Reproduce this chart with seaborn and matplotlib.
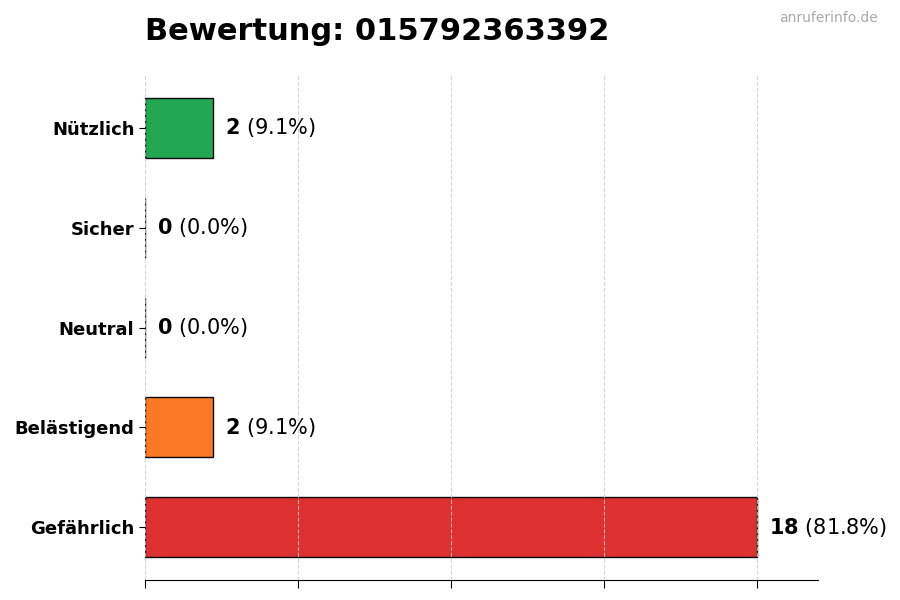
import matplotlib
matplotlib.use("Agg")
import matplotlib.pyplot as plt
import seaborn as sns
import pandas as pd

# Bewertungen fuer die Nummer
kategorien = ['Nützlich', 'Sicher', 'Neutral', 'Belästigend', 'Gefährlich']
anzahl = [2, 0, 0, 2, 18]
farben = ['#16a34a', '#2563eb', '#6b7280', '#f97316', '#dc2626']
nummer = '015792363392'

df = pd.DataFrame({'kategorie': kategorien, 'anzahl': anzahl})
gesamt = sum(anzahl)
maxwert = max(anzahl)

sns.set_style('white')
plt.rcParams['font.family'] = ['DejaVu Sans']
plt.rcParams['text.color'] = 'black'
plt.rcParams['axes.labelcolor'] = 'black'

fig = plt.figure(figsize=(9, 6), dpi=100)
ax = fig.add_axes([0.161, 0.033, 0.748, 0.842])

sns.barplot(data=df, x='anzahl', y='kategorie', hue='kategorie', palette=farben,
            legend=False, orient='h', width=0.6, edgecolor='black', linewidth=1,
            saturation=1, alpha=0.95, ax=ax)

# Werte neben den Balken
for i, v in enumerate(anzahl):
    pct = v / gesamt * 100
    ax.text(v + maxwert * 0.02, i, r'$\bf{' + str(v) + '}$' + f' ({pct:.1f}%)',
            va='center', ha='left', fontsize=15, color='black')

ax.set_xlim(0, maxwert * 1.1)
ax.set_ylim(4.53, -0.53)
ax.set_xticks([maxwert * f for f in [0, 0.25, 0.5, 0.75, 1.0]])
ax.set_xticklabels([])
ax.set_xlabel('')
ax.set_ylabel('')
ax.set_axisbelow('line')
ax.grid(axis='x', linestyle='--', color='#cccccc', alpha=0.8, linewidth=0.8)
ax.grid(axis='y', visible=False)

for s in ['top', 'right', 'left']:
    ax.spines[s].set_visible(False)
ax.spines['bottom'].set_color('black')

ax.tick_params(axis='y', left=True, length=4, width=0.8, colors='black', labelsize=13)
ax.tick_params(axis='x', bottom=True, length=6, width=0.8, colors='black')
for lbl in ax.get_yticklabels():
    lbl.set_fontweight('bold')

ax.set_title(f'Bewertung: {nummer}', loc='left', fontsize=22, fontweight='bold',
             pad=25, color='black')
fig.text(0.975, 0.982, 'anruferinfo.de', ha='right', va='top', fontsize=10, color='#aaaaaa')

fig.savefig('out.png', dpi=100)
